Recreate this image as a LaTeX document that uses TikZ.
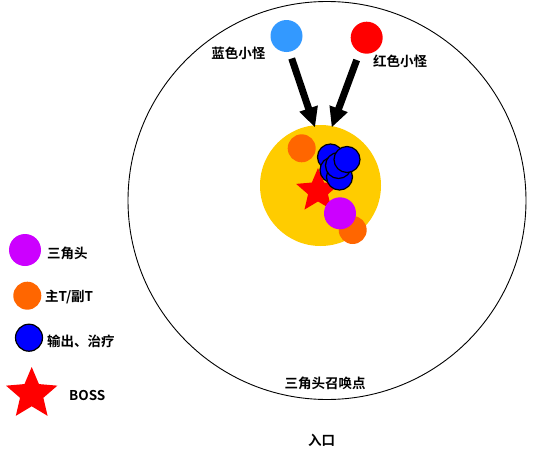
\documentclass[tikz,border=0pt]{standalone}
\usepackage{fontspec}
\setmainfont{Noto Sans CJK SC}[BoldFont={Noto Sans CJK SC Bold}]
\usetikzlibrary{shapes.geometric,arrows.meta}
\definecolor{cYel}{HTML}{FFCC00}
\definecolor{cOra}{HTML}{FF6600}
\definecolor{cPur}{HTML}{CC00FF}
\definecolor{cBlu}{HTML}{0000FF}
\definecolor{cSky}{HTML}{3399FF}
\definecolor{cRed}{HTML}{FF0000}
\tikzset{
  dot/.style={circle,inner sep=0pt,minimum size=#1,draw=none},
  bluedot/.style={circle,inner sep=0pt,minimum size=26pt,fill=cBlu,draw=black,line width=1.2pt},
  redstar/.style={star,star points=5,star point ratio=2.2,inner sep=0pt,minimum size=#1,fill=cRed,draw=none},
  lbl/.style={font=\bfseries\fontsize{13.5}{15}\selectfont,inner sep=0pt},
  bigarrow/.style={line width=7pt,-{Triangle[length=20pt,width=18pt]}}
}
\begin{document}
\begin{tikzpicture}[x=1pt,y=-1pt]
\useasboundingbox[fill=white] (0,0) rectangle (550,450);
% arena
\node[circle,draw=black,line width=0.9pt,inner sep=0pt,minimum size=398pt] (arena) at (327,200.5) {};
% zone
\node[dot=121pt,fill=cYel] (zone) at (320.5,185.5) {};
\node[dot=28pt,fill=cOra] (t1) at (301.7,148.3) {};
\node[redstar=46pt] (boss) at (318,191) {};
\node[bluedot] (b1) at (330.5,157) {};
\node[bluedot] (b2) at (333,170) {};
\node[bluedot] (b3) at (339.5,177) {};
\node[bluedot] (b4) at (338.5,165.5) {};
\node[bluedot] (b5) at (347,159.5) {};
\node[dot=28pt,fill=cOra] (t2) at (352.7,230) {};
\node[dot=32pt,fill=cPur] (tri) at (340,213.3) {};
% monsters
\node[dot=32pt,fill=cSky] (bm) at (286.5,36) {};
\node[dot=32pt,fill=cRed] (rm) at (366.7,37.7) {};
\node[lbl] (bmt) at (238.3,53.3) {蓝色小怪};
\node[lbl] (rmt) at (400,61.7) {红色小怪};
\coordinate (a1s) at (291.7,58.5);
\coordinate (a1e) at (315,127.5);
\coordinate (a2s) at (356.7,60);
\coordinate (a2e) at (331.7,127.5);
\draw[bigarrow] (a1s) -- (a1e);
\draw[bigarrow] (a2s) -- (a2e);
% labels
\node[lbl] (spawn) at (325,383.3) {三角头召唤点};
\node[lbl] (entry) at (321.7,440) {入口};
% legend
\node[dot=32pt,fill=cPur] (lg1) at (25,250) {};
\node[lbl,anchor=west] (lg1t) at (47,253) {三角头};
\node[dot=28pt,fill=cOra] (lg2) at (27.3,295.7) {};
\node[lbl,anchor=west] (lg2t) at (45,297) {主T/副T};
\node[bluedot,minimum size=27pt] (lg3) at (29,337.7) {};
\node[lbl,anchor=west] (lg3t) at (47,341.7) {输出、治疗};
\node[redstar=54pt] (lg4) at (31.7,394) {};
\node[lbl,anchor=west] (lg4t) at (69,396) {BOSS};
\end{tikzpicture}
\end{document}
